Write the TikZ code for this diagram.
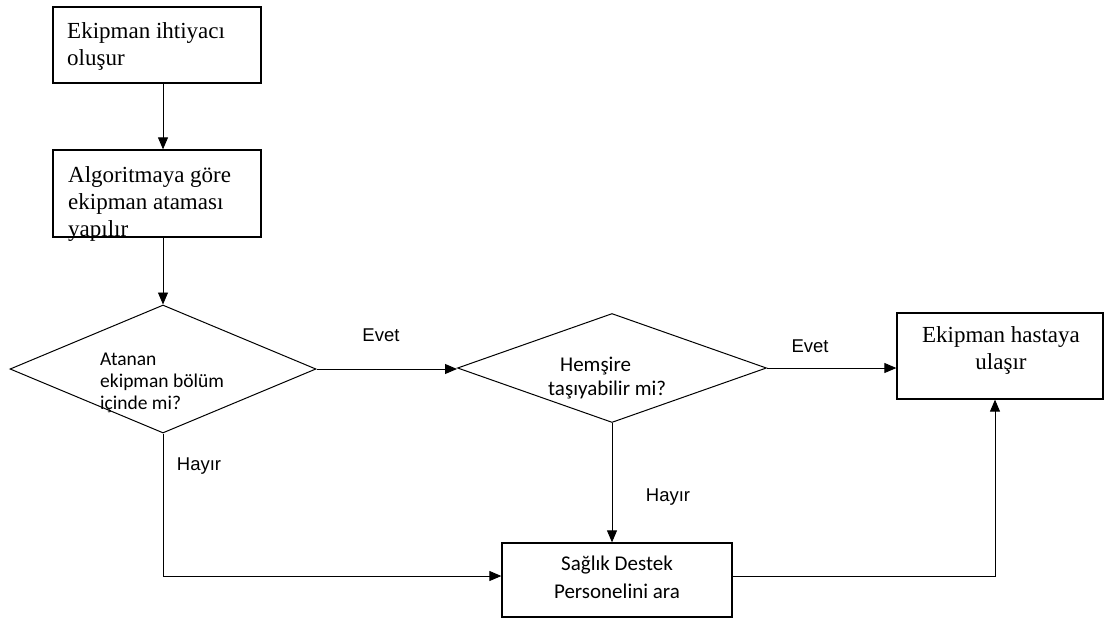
\documentclass[tikz,border=0pt]{standalone}
\usepackage{fontspec}
\setmainfont{Liberation Serif}
\newfontfamily\calfont{Carlito}
\newfontfamily\arialfont{Liberation Sans}
\usetikzlibrary{shapes.geometric,arrows.meta}
\begin{document}
\begin{tikzpicture}[x=1pt,y=-1pt,
  box/.style={draw, line width=1.3pt, inner sep=0pt},
  dia/.style={draw, diamond, line width=1pt, inner sep=0pt},
  sertext/.style={font=\fontsize{23}{27}\selectfont, inner sep=0pt},
  santext/.style={font=\calfont\fontsize{19.5}{22}\selectfont, inner sep=0pt},
  santextb/.style={font=\calfont\fontsize{21}{24}\selectfont, inner sep=0pt},
  lbl/.style={font=\arialfont\fontsize{18.5}{22}\selectfont, inner sep=0pt},
  arr/.style={line width=0.9pt, -{Triangle[length=12pt,width=10pt]}},
  ln/.style={line width=0.9pt}]
\useasboundingbox (0,0) rectangle (1105,619);
\fill[white] (0,0) rectangle (1105,619);

\node[box, minimum width=208pt, minimum height=76pt] (b1) at (157,45) {};
\node[sertext, anchor=west, align=left] (b1t) at (67,46) {Ekipman ihtiyacı\\oluşur};

\node[box, minimum width=208pt, minimum height=87pt] (b2) at (157,193.5) {};
\node[sertext, anchor=west, align=left] (b2t) at (68,204) {Algoritmaya göre\\ekipman ataması\\yapılır};

\node[dia, minimum width=306pt, minimum height=128pt] (d1) at (163,369) {};
\node[santext, anchor=west, align=left] (d1t) at (100,383) {Atanan\\ekipman bölüm\\içinde mi?};

\node[dia, minimum width=309pt, minimum height=109pt] (d2) at (612,368) {};
\node[santextb, anchor=west, align=left] (d2t) at (548,378) {\hspace*{12pt}Hemşire\\taşıyabilir mi?};

\node[box, minimum width=206pt, minimum height=86pt] (b3) at (1000,356) {};
\node[sertext, align=center] (b3t) at (1001,350) {Ekipman hastaya\\ulaşır};

\node[box, minimum width=230pt, minimum height=74pt] (b4) at (617,580) {};
\node[santextb, font=\calfont\fontsize{21}{28}\selectfont, align=center] (b4t) at (617,577) {Sağlık Destek\\Personelini ara};
\coordinate (b4w) at ([yshift=4pt]b4.west);
\coordinate (b4e) at ([yshift=4pt]b4.east);

\draw[arr] (b1.south -| d1.north) -- (b2.north -| d1.north);
\draw[arr] (b2.south -| d1.north) -- (d1.north);
\draw[arr] (d1.east) -- (d1.east -| d2.west);
\draw[arr] (d2.east) -- (d2.east -| b3.west);
\draw[arr] (d2.south) -- (d2.south |- b4.north);
\draw[arr] (d1.south) |- (b4w);
\draw[arr] (b4e) -| ([xshift=-5pt]b3.south);

\node[lbl] (l1) at (381,335) {Evet};
\node[lbl] (l2) at (810,346) {Evet};
\node[lbl] (l3) at (199,466) {Hayır};
\node[lbl] (l4) at (668,497) {Hayır};
\end{tikzpicture}
\end{document}
